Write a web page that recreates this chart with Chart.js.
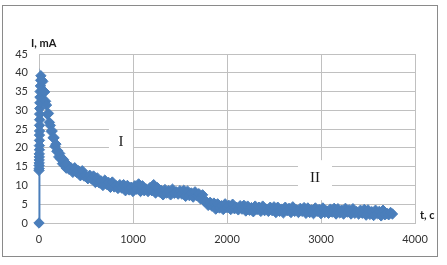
<!DOCTYPE html>
<html>
<head>
<meta charset="utf-8">
<script src="https://cdn.jsdelivr.net/npm/chart.js@4.4.0/dist/chart.umd.min.js"></script>
<style>
html, body { margin: 0; padding: 0; background: #fff; }
#wrap { position: absolute; left: 0; top: 0; width: 447px; height: 265px; }
</style>
</head>
<body>
<div id="wrap"><canvas id="chart" width="447" height="265"></canvas></div>
<script>
// time, s
var times = [
    0, 0, 1, 1, 2, 2, 3, 3, 4, 4, 5, 5, 6, 6, 7, 7, 8, 9, 10, 12, 15, 18,
    20, 30, 40, 50, 60, 70, 80, 90, 100, 110, 120, 130, 140, 150, 160, 170, 180, 190,
    200, 210, 220, 230, 240, 250, 260, 270, 280, 290,
    300, 320, 340, 360, 380, 400, 420, 440, 460, 480,
    500, 520, 540, 560, 580, 600, 620, 640, 660, 680,
    700, 720, 740, 760, 780, 800, 820, 840, 860, 880,
    900, 920, 940, 960, 980, 1000, 1020, 1040, 1060, 1080,
    1100, 1120, 1140, 1160, 1180, 1200, 1220, 1240, 1260, 1280,
    1300, 1320, 1340, 1360, 1380, 1400, 1420, 1440, 1460, 1480,
    1500, 1520, 1540, 1560, 1580, 1600, 1620, 1640, 1660, 1680,
    1700, 1720, 1740, 1760, 1780, 1800, 1820, 1840, 1860, 1880,
    1900, 1920, 1940, 1960, 1980, 2000, 2020, 2040, 2060, 2080,
    2100, 2120, 2140, 2160, 2180, 2200, 2220, 2240, 2260, 2280,
    2300, 2320, 2340, 2360, 2380, 2400, 2420, 2440, 2460, 2480,
    2500, 2520, 2540, 2560, 2580, 2600, 2620, 2640, 2660, 2680,
    2700, 2720, 2740, 2760, 2780, 2800, 2820, 2840, 2860, 2880,
    2900, 2920, 2940, 2960, 2980, 3000, 3020, 3040, 3060, 3080,
    3100, 3120, 3140, 3160, 3180, 3200, 3220, 3240, 3260, 3280,
    3300, 3320, 3340, 3360, 3380, 3400, 3420, 3440, 3460, 3480,
    3500, 3520, 3540, 3560, 3580, 3600, 3620, 3640, 3660, 3680,
    3700, 3720, 3740, 3760
];
// current, mA
var current = [
    0, 14, 14.5, 15.3, 16, 16.8, 17.6, 18.4, 19.5, 20.6, 22, 23.4, 24.5, 26, 27.5, 29, 30.5, 32, 33.5, 35, 36.5, 38,
    39.2, 38.0, 37.7, 35.0, 34.9, 32.4, 31.4, 28.9, 29.2, 26.8, 26.0, 24.4, 24.5, 22.7, 22.7, 20.4, 21.0, 19.1,
    19.2, 17.6, 18.5, 17.1, 17.3, 15.8, 16.9, 15.4, 15.5, 14.6,
    15.6, 14.3, 14.7, 13.5, 14.7, 13.5, 13.9, 12.6, 13.9, 12.5,
    12.6, 11.8, 12.7, 11.7, 12.5, 10.8, 12.0, 10.7, 11.2, 10.0,
    11.4, 10.3, 10.8, 9.5, 10.9, 9.6, 9.9, 9.2, 10.2, 9.3,
    10.2, 8.6, 10.0, 8.8, 9.5, 8.4, 9.9, 9.0, 10.4, 8.4,
    9.9, 8.6, 9.0, 8.4, 9.4, 8.6, 10.2, 8.0, 9.4, 8.3,
    8.7, 7.5, 8.9, 8.0, 8.6, 7.5, 9.0, 7.9, 8.3, 7.7,
    8.6, 7.7, 8.7, 7.1, 8.5, 7.3, 8.0, 6.9, 8.3, 7.3,
    7.8, 6.4, 7.5, 5.8, 5.7, 4.7, 5.5, 4.5, 5.3, 3.7,
    5.1, 4.0, 4.6, 3.6, 5.1, 4.1, 4.7, 3.6, 5.0, 3.8,
    4.2, 3.5, 4.6, 3.7, 4.7, 3.2, 4.5, 3.4, 4.1, 3.0,
    4.5, 3.6, 4.2, 3.1, 4.5, 3.3, 3.7, 3.1, 4.2, 3.3,
    4.3, 2.8, 4.2, 3.1, 3.7, 2.7, 4.2, 3.3, 3.9, 2.8,
    4.3, 3.1, 3.5, 2.8, 3.9, 3.1, 4.1, 2.6, 4.0, 2.8,
    3.5, 2.5, 4.0, 3.1, 3.6, 2.5, 4.0, 2.8, 3.2, 2.6,
    3.7, 2.9, 3.9, 2.4, 3.8, 2.7, 3.4, 2.4, 3.9, 2.9,
    3.5, 2.4, 3.8, 2.6, 3.0, 2.4, 3.4, 2.6, 3.6, 2.1,
    3.5, 2.3, 3.0, 2.0, 3.4, 2.5, 3.1, 1.9, 3.4, 2.2,
    2.6, 2.2, 2.8, 2.4
];
var xTicks = [0, 1000, 2000, 3000, 4000];
var yTicks = [0, 5, 10, 15, 20, 25, 30, 35, 40, 45];
var xTitle = 't, c';
var yTitle = 'I, mA';
var zoneLabels = ['I', 'II'];

var points = [];
for (var i = 0; i < times.length; i++) {
    points.push({ x: times[i], y: current[i] });
}

var blue = '#4a7ebb';
var gridColor = '#c0c0c0';

var decor = {
    id: 'decor',
    beforeDraw: function (chart) {
        var ctx = chart.ctx;
        ctx.save();
        ctx.fillStyle = '#fff';
        ctx.fillRect(0, 0, chart.width, chart.height);
        ctx.strokeStyle = '#8a8a8a';
        ctx.lineWidth = 1;
        ctx.strokeRect(2.5, 5.5, 435, 251);
        ctx.restore();
    },
    beforeDatasetsDraw: function (chart) {
        var ctx = chart.ctx;
        var xs = chart.scales.x, ys = chart.scales.y;
        // white text boxes for the two zones, anchored in data space
        var boxes = [
            { t: 872, v: 21.8, w: 24, up: 21, down: 11 },
            { t: 2936, v: 12.2, w: 34, up: 17, down: 23 }
        ];
        ctx.save();
        ctx.font = '15px "Liberation Serif", "Times New Roman", serif';
        ctx.textAlign = 'center';
        ctx.textBaseline = 'middle';
        for (var k = 0; k < boxes.length; k++) {
            var b = boxes[k];
            var cx = xs.getPixelForValue(b.t);
            var cy = ys.getPixelForValue(b.v);
            ctx.fillStyle = '#fff';
            ctx.fillRect(cx - b.w / 2, cy - b.up, b.w, b.up + b.down);
            ctx.fillStyle = '#1a1a1a';
            ctx.fillText(zoneLabels[k], cx, cy + 1);
        }
        ctx.restore();
    },
    afterDraw: function (chart) {
        var ctx = chart.ctx;
        var area = chart.chartArea;
        ctx.save();
        ctx.fillStyle = '#1a1a1a';
        ctx.font = 'bold 11px Lato, "Liberation Sans", sans-serif';
        ctx.textBaseline = 'middle';
        ctx.textAlign = 'left';
        ctx.fillText(yTitle, area.left - 8, area.top - 11);
        ctx.fillText(xTitle, area.right + 5, area.bottom - 8);
        ctx.restore();
    }
};

var ctx = document.getElementById('chart').getContext('2d');
var myChart = new Chart(ctx, {
    type: 'scatter',
    data: {
        datasets: [{
            data: points,
            showLine: true,
            borderColor: blue,
            borderWidth: 2,
            backgroundColor: blue,
            pointStyle: 'rectRot',
            pointRadius: 5.2,
            pointBorderWidth: 1,
            pointBorderColor: blue,
            pointBackgroundColor: blue,
            clip: false
        }]
    },
    options: {
        responsive: false,
        animation: false,
        devicePixelRatio: 1,
        layout: { padding: { left: 9, right: 32, top: 54, bottom: 17 } },
        plugins: {
            legend: { display: false },
            tooltip: { enabled: false }
        },
        scales: {
            x: {
                type: 'linear',
                min: 0,
                max: 4000,
                afterBuildTicks: function (scale) {
                    scale.ticks = xTicks.map(function (v) { return { value: v }; });
                },
                afterFit: function (scale) { scale.height = 25; },
                grid: { color: gridColor, lineWidth: 1, drawTicks: false },
                border: { color: gridColor, width: 1 },
                ticks: {
                    padding: 10,
                    color: '#333',
                    font: { family: 'Lato, "Liberation Sans", sans-serif', size: 11 },
                    maxRotation: 0,
                    callback: function (v) { return String(v); }
                }
            },
            y: {
                type: 'linear',
                min: 0,
                max: 45,
                afterBuildTicks: function (scale) {
                    scale.ticks = yTicks.map(function (v) { return { value: v }; });
                },
                afterFit: function (scale) { scale.width = 30; },
                grid: { color: gridColor, lineWidth: 1, drawTicks: false },
                border: { color: gridColor, width: 1 },
                ticks: {
                    padding: 11,
                    color: '#333',
                    font: { family: 'Lato, "Liberation Sans", sans-serif', size: 11 },
                    callback: function (v) { return String(v); }
                }
            }
        }
    },
    plugins: [decor]
});
</script>
</body>
</html>
